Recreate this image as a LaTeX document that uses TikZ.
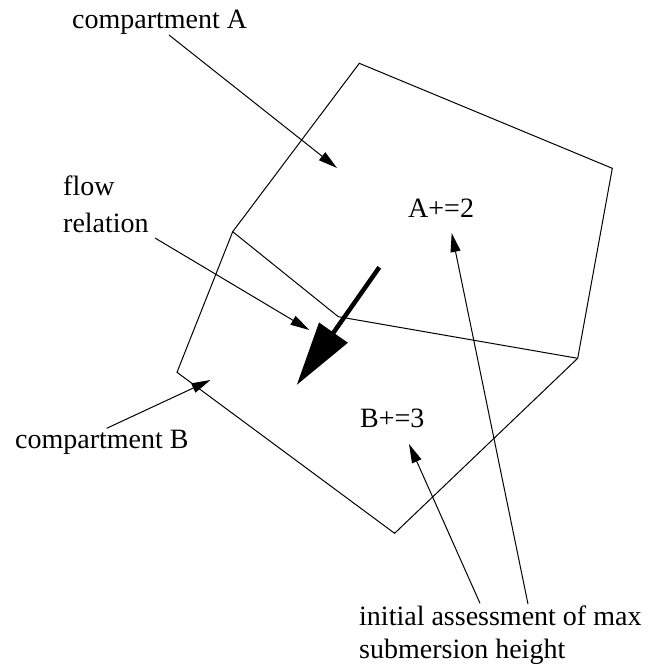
\documentclass[tikz,border=0pt]{standalone}
\usepackage{fontspec}
\setmainfont{Liberation Serif}
\usetikzlibrary{arrows.meta}
\begin{document}
\begin{tikzpicture}[x=1pt,y=-1pt,
  lbl/.style={inner sep=0pt,anchor=base west,font=\fontsize{28}{33}\selectfont},
  edge/.style={line width=1pt,line join=miter},
  ptr/.style={line width=1pt,-{Triangle[length=19pt,width=10pt]}},
  bigptr/.style={line width=4.5pt,-{Triangle[length=64pt,width=34pt]}}]
\useasboundingbox (0,0) rectangle (655,665);
% polygon vertices
\coordinate (T) at (359.3,63.3);
\coordinate (R) at (612.3,168.3);
\coordinate (RB) at (577.7,358.3);
\coordinate (Bt) at (394.6,533.3);
\coordinate (LB) at (177,372.3);
\coordinate (L) at (232.7,231.7);
\coordinate (M) at (338.3,316.7);
\draw[edge] (T) -- (R) -- (RB) -- (Bt) -- (LB) -- (L) -- cycle;
\draw[edge] (L) -- (M) -- (RB);
% labels
\node[lbl] (cA) at (72,28) {compartment A};
\node[lbl] (fl1) at (63,195) {flow};
\node[lbl] (fl2) at (63,232) {relation};
\node[lbl] (cB) at (15,448) {compartment B};
\node[lbl] (Ap) at (408,217) {A+=2};
\node[lbl] (Bp) at (360,427) {B+=3};
\node[lbl] (ia1) at (359,625) {initial assessment of max};
\node[lbl] (ia2) at (359,658) {submersion height};
% connector ends
\coordinate (a1s) at (169,35);
\coordinate (a1e) at (337,168);
\coordinate (a2s) at (155,238);
\coordinate (a2e) at (309.3,330);
\coordinate (a3s) at (379.3,267.3);
\coordinate (a3e) at (296.7,385);
\coordinate (a4s) at (106.7,428.3);
\coordinate (a4e) at (210.5,380);
\coordinate (a5s) at (480,603.3);
\coordinate (a5e) at (409,444);
\coordinate (a6s) at (528,604);
\coordinate (a6e) at (451.7,233);
\draw[ptr] (a1s) -- (a1e);
\draw[ptr] (a2s) -- (a2e);
\draw[bigptr] (a3s) -- (a3e);
\draw[ptr] (a4s) -- (a4e);
\draw[ptr] (a5s) -- (a5e);
\draw[ptr] (a6s) -- (a6e);
\end{tikzpicture}
\end{document}
